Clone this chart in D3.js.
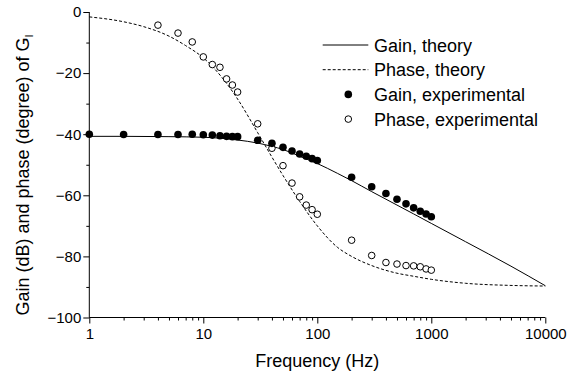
<!DOCTYPE html>
<html>
<head>
<meta charset="utf-8">
<script src="https://cdn.jsdelivr.net/npm/d3@7"></script>
<style>
    body { margin: 0; background: #fff; }
    text { font-family: Arial, "Liberation Sans", sans-serif; fill: #000; }
</style>
</head>
<body>
<svg id="Bode" width="567" height="374"></svg>
<script>
// Frequencies (Hz) of the measurements
const expFreq = [1, 2, 4, 6, 8, 10, 12, 14, 16, 18, 20, 30, 40, 50, 60, 70, 80, 90, 100,
    200, 300, 400, 500, 600, 700, 800, 900, 1000];
const gainExp = [-40.0, -40.1, -40.1, -40.1, -40.0, -40.2, -40.3, -40.5, -40.7, -40.8, -40.8,
    -42.0, -43.0, -44.3, -45.5, -46.5, -47.2, -48.0, -48.6,
    -54.1, -57.2, -59.4, -61.3, -62.8, -64.1, -65.2, -66.1, -67.0];

const phaseFreq = [4, 6, 8, 10, 12, 14, 16, 18, 20, 30, 40, 50, 60, 70, 80, 90, 100,
    200, 300, 400, 500, 600, 700, 800, 900, 1000];
const phaseExp = [-4.3, -6.9, -9.8, -14.7, -17.2, -18.1, -21.9, -23.9, -26.2, -36.6,
    -44.6, -50.3, -56.0, -60.5, -63.2, -64.7, -66.2,
    -74.7, -79.7, -82.0, -82.5, -83.0, -83.1, -83.4, -84.1, -84.5];

// Theory curves
const gainTheoryFreq = [1, 2, 5, 10, 20, 30, 40, 50, 70, 100, 150, 200, 300, 500, 700, 1000, 2000, 5000, 10000];
const gainTheory = [-40.7, -40.7, -40.8, -41.0, -41.9, -42.9, -44.0, -45.0, -47.2, -49.6, -52.8,
    -55.2, -58.8, -63.2, -66.1, -69.2, -75.2, -83.2, -89.6];

const phaseTheoryFreq = [1, 2, 3, 5, 7, 10, 15, 20, 30, 40, 50, 70, 100, 150, 200, 300, 500, 700, 1000, 2000, 5000, 10000];
const phaseTheory = [-1.6, -3.2, -4.8, -7.9, -11.0, -15.0, -22.0, -28.5, -39.5, -47.5, -53.5, -62.0,
    -70.0, -77.0, -80.0, -83.0, -85.5, -86.5, -87.5, -88.8, -89.5, -89.7];

const xTicks = [1, 10, 100, 1000, 10000];
const yTicks = [-100, -80, -60, -40, -20, 0];
const yMinorTicks = [-90, -70, -50, -30, -10];

const legendItems = ["Gain, theory", "Phase, theory", "Gain, experimental", "Phase, experimental"];

const svg = d3.select("svg#Bode");

const xScale = d3.scaleLog().domain([1, 10000]).range([89.3, 545.3]);
const yScale = d3.scaleLinear().domain([-100, 0]).range([317.5, 12]);

// minor ticks 2..9 in every decade
const xMinorTicks = [];
for (let d = 1; d < 10000; d *= 10) {
    for (let k = 2; k <= 9; k++) xMinorTicks.push(d * k);
}

// Axes
const xAxis = svg.append("g").attr("transform", "translate(0,317.5)")
    .call(d3.axisBottom(xScale).tickValues(xTicks).tickFormat(d3.format("d")).tickSize(6).tickPadding(5));
svg.append("g").attr("transform", "translate(0,317.5)")
    .call(d3.axisBottom(xScale).tickValues(xMinorTicks).tickFormat("").tickSize(3))
    .select(".domain").remove();

const yAxis = svg.append("g").attr("transform", "translate(89.3,0)")
    .call(d3.axisLeft(yScale).tickValues(yTicks).tickSize(6).tickPadding(2));
svg.append("g").attr("transform", "translate(89.3,0)")
    .call(d3.axisLeft(yScale).tickValues(yMinorTicks).tickFormat("").tickSize(3))
    .select(".domain").remove();

svg.selectAll(".tick text").style("font-size", "15px").attr("fill", "#000");
svg.selectAll(".domain, .tick line").attr("stroke", "#000");
xAxis.select(".domain").attr("d", "M89.3,0H545.3");
yAxis.select(".domain").attr("d", "M0,317.5V12");

// Axis titles
svg.append("text")
    .attr("x", 317.3).attr("y", 366.5)
    .attr("text-anchor", "middle")
    .style("font-size", "18px")
    .text("Frequency (Hz)");

const yTitle = svg.append("text")
    .attr("transform", "translate(29,175) rotate(-90)")
    .attr("text-anchor", "middle")
    .style("font-size", "18px");
yTitle.append("tspan").text("Gain (dB) and phase (degree) of G");
yTitle.append("tspan").attr("dy", 4).style("font-size", "11px").text("I");

// Theory lines
const line = d3.line()
    .x(d => xScale(d[0]))
    .y(d => yScale(d[1]))
    .curve(d3.curveMonotoneX);

svg.append("path")
    .datum(gainTheoryFreq.map((f, i) => [f, gainTheory[i]]))
    .attr("d", line)
    .attr("fill", "none").attr("stroke", "#000").attr("stroke-width", 1);

svg.append("path")
    .datum(phaseTheoryFreq.map((f, i) => [f, phaseTheory[i]]))
    .attr("d", line)
    .attr("fill", "none").attr("stroke", "#000").attr("stroke-width", 1)
    .attr("stroke-dasharray", "3,2");

// Experimental points
svg.append("g").selectAll("circle")
    .data(phaseFreq.map((f, i) => [f, phaseExp[i]]))
    .enter().append("circle")
    .attr("cx", d => xScale(d[0]))
    .attr("cy", d => yScale(d[1]))
    .attr("r", 3.3)
    .attr("fill", "#fff").attr("stroke", "#000").attr("stroke-width", 1);

svg.append("g").selectAll("circle")
    .data(expFreq.map((f, i) => [f, gainExp[i]]))
    .enter().append("circle")
    .attr("cx", d => xScale(d[0]))
    .attr("cy", d => yScale(d[1]))
    .attr("r", 3.8)
    .attr("fill", "#000");

// Legend, rows about 24.7px apart
const rowGap = 24.7;
const legend = svg.append("g").attr("transform", "translate(0,45)");
legend.selectAll("text")
    .data(legendItems)
    .enter().append("text")
    .attr("x", 374)
    .attr("y", (d, i) => i * rowGap + 6.5)
    .style("font-size", "18px")
    .text(d => d);

legend.append("line").attr("x1", 322.7).attr("x2", 368.3).attr("y1", 0).attr("y2", 0)
    .attr("stroke", "#000");
legend.append("line").attr("x1", 322.7).attr("x2", 368.3).attr("y1", rowGap).attr("y2", rowGap)
    .attr("stroke", "#000").attr("stroke-dasharray", "3,2");
legend.append("circle").attr("cx", 348.3).attr("cy", 2 * rowGap).attr("r", 3.8).attr("fill", "#000");
legend.append("circle").attr("cx", 348.3).attr("cy", 3 * rowGap).attr("r", 3.3)
    .attr("fill", "#fff").attr("stroke", "#000");
</script>
</body>
</html>
